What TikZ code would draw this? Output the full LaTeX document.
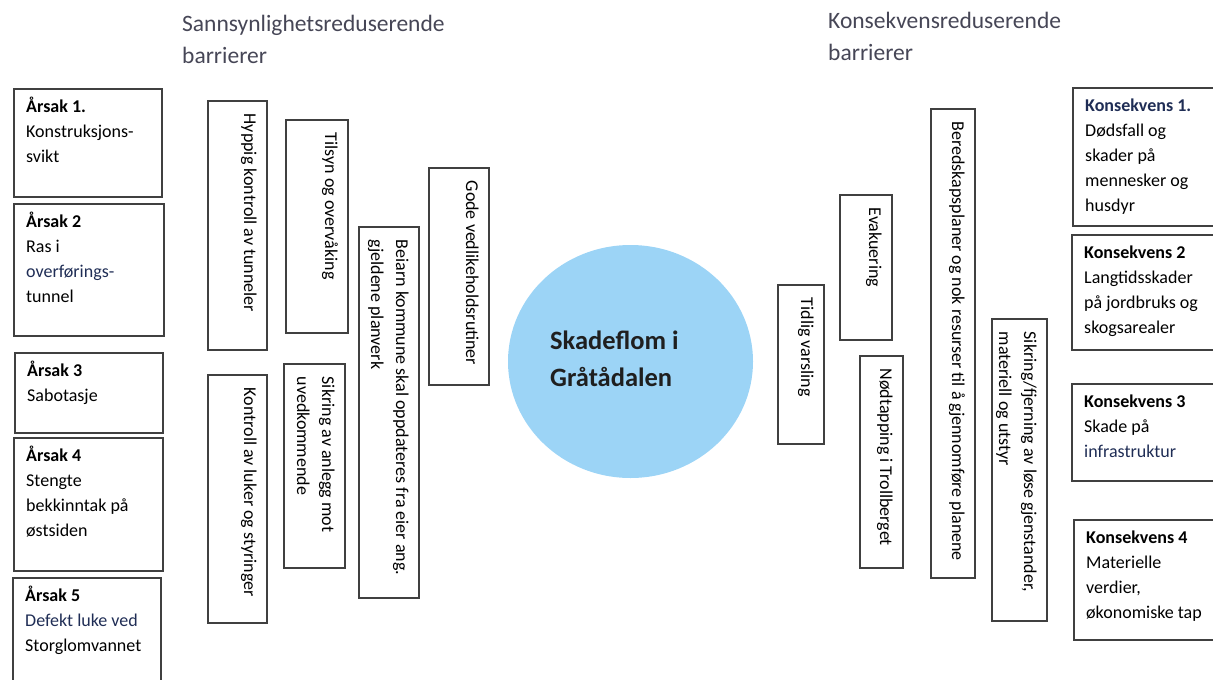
\documentclass[tikz,border=0pt]{standalone}
\usepackage{fontspec}
\setmainfont{Carlito}
\usepackage{tikz}
\usepackage{xcolor}
\usetikzlibrary{shapes.geometric}

\definecolor{rimgray}{RGB}{64,64,64}
\definecolor{headgray}{RGB}{70,70,86}
\definecolor{inknavy}{RGB}{31,45,85}
\definecolor{floodblue}{RGB}{156,212,246}

\begin{document}
\begin{tikzpicture}[x=1pt,y=-1pt,
frame/.style={draw=rimgray,line width=1.8pt,inner sep=0pt,anchor=north west},
hlabel/.style={anchor=north west,inner sep=0pt,align=left,font=\fontsize{18}{25}\selectfont},
vlabel/.style={hlabel,rotate=-90},
heading/.style={anchor=north west,inner sep=0pt,align=left,text=headgray,font=\fontsize{23.5}{32}\selectfont}]
 \useasboundingbox (0,0) rectangle (1213,680);
 \clip (0,0) rectangle (1213,680);
 \node[heading] (hleft) at (182,8.6) {\strut Sannsynlighetsreduserende\\barrierer};
 \node[heading] (hright) at (828,5.6) {\strut Konsekvensreduserende\\barrierer};
 % causes and consequences
 \foreach \nm/\x/\y/\w/\h/\txt in {
    a1/13/88/148/108/{\textbf{Årsak 1.}\\Konstruksjons-\\svikt},
    a2/13/203/150/132/{\textbf{Årsak 2}\\Ras i\\\textcolor{inknavy}{overførings-}\\tunnel},
    a3/14/352/148/80/{\textbf{Årsak 3}\\Sabotasje},
    a4/13/437/149/133/{\textbf{Årsak 4}\\Stengte\\bekkinntak på\\østsiden},
    a5/12/577/148/120/{\textbf{Årsak 5}\\\textcolor{inknavy}{Defekt luke ved}\\Storglomvannet},
    k1/1072/87/200/138/{\color{inknavy}\textbf{Konsekvens 1.}\\Dødsfall og\\skader på\\mennesker og\\husdyr},
    k2/1071/234/200/115/{\textbf{Konsekvens 2}\\Langtidsskader\\på jordbruks og\\skogsarealer},
    k3/1071/383/200/97/{\textbf{Konsekvens 3}\\Skade på\\\textcolor{inknavy}{infrastruktur}},
    k4/1073/519/200/120/{\textbf{Konsekvens 4}\\Materielle\\verdier,\\økonomiske tap}}
    {\node[frame,minimum width=\w pt,minimum height=\h pt] (\nm) at (\x,\y) {};
    \node[hlabel] (\nm t) at ([shift={(13,6.5)}]\nm.north west) {\strut\txt};}
 % barriers
 \foreach \nm/\x/\y/\w/\h/\txt in {
    b1/207/100/59/249/{Hyppig kontroll av tunneler},
    b2/285/119/62/213/{Tilsyn og overvåking},
    b3/428/167/60/217/{Gode vedlikeholdsrutiner},
    b4/358/226/60/371/{Beiarn kommune skal oppdateres fra eier ang.\\gjeldene planverk},
    b5/283/363/61/204/{Sikring av anlegg mot\\uvedkommende},
    b6/207/374/59/248/{Kontroll av luker og styringer},
    c1/777/284/46/159/{Tidlig varsling},
    c2/839/194/52/145/{Evakuering},
    c3/859/355/43/212/{Nødtapping i Trollberget},
    c4/930/108/44/469/{Beredskapsplaner og nok resurser til å gjennomføre planene},
    c5/991/318/55/302/{Sikring/fjerning av løse gjenstander,\\materiell og utstyr}}
    {\node[frame,minimum width=\w pt,minimum height=\h pt] (\nm) at (\x,\y) {};
    \node[vlabel] (\nm t) at ([shift={(-6,13.5)}]\nm.north east) {\strut\txt};}
 % top event
 \node[ellipse,fill=floodblue,minimum width=245pt,minimum height=233pt,inner sep=0pt] (flood) at (630.5,361.5) {};
 \node[anchor=north west,inner sep=0pt,align=left,text=black!88,
 font=\bfseries\fontsize{26.5}{37}\selectfont] (floodt) at (550,323) {\strut Skadeflom i\\Gråtådalen};
\end{tikzpicture}
\end{document}
